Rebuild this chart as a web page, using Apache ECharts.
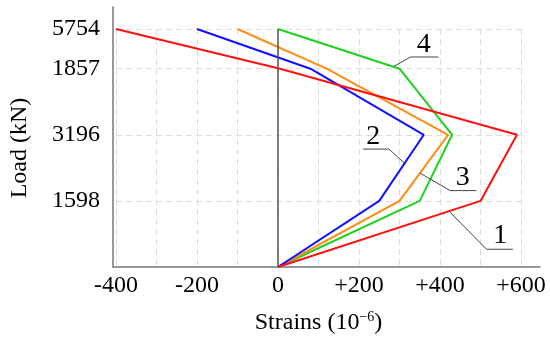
<!DOCTYPE html>
<html><head><meta charset="utf-8">
<script src="https://cdn.jsdelivr.net/npm/echarts@6/dist/echarts.min.js"></script>
<style>html,body{margin:0;padding:0;background:#fff}#c{width:550px;height:347px}</style>
</head><body><div id="c"></div>
<script>
const loadTicks = [1598, 3196, 4794, 5754];
const loadTickLabels = ['1598', '3196', '1857', '5754'];
const strainTicks = [-400, -200, 0, 200, 400, 600];
const curve1 = [[0,0],[500,1598],[590,3196],[5,4794],[-400,5754]];
const curve2 = [[0,0],[250,1598],[360,3196],[80,4794],[-200,5754]];
const curve3 = [[0,0],[300,1598],[420,3196],[120,4794],[-100,5754]];
const curve4 = [[0,0],[350,1598],[430,3196],[300,4794],[0,5754]];
const annotationNames = ['1','2','3','4'];
const annotationText = [[549,758],[235,3155],[456,2172],[360,5375]];
const annotationLeaders = [
  [[425,1324],[515,429],[580,429]],
  [[210,2850],[274,2850],[315,2487]],
  [[351,2269],[425,1847],[490,1847]],
  [[286,4850],[327,5077],[396,5077]]
];

const FONT = '"Liberation Serif", "Times New Roman", serif';
const leaderData = [];
annotationLeaders.forEach((seg, i) => { if (i) leaderData.push('-'); seg.forEach(p => leaderData.push(p)); });

const chart = echarts.init(document.getElementById('c'));
const lineSeries = (data, color) => ({
  type: 'line', xAxisIndex: 1, yAxisIndex: 1, data, symbol: 'none', silent: true,
  lineStyle: { color, width: 2 }, animation: false
});
chart.setOption({
  backgroundColor: '#fff',
  animation: false,
  grid: [
    { left: 113, top: 7, right: 10, bottom: 80 },
    { left: 113, top: 29, right: 29, bottom: 80 }
  ],
  xAxis: [
    { type: 'value', gridIndex: 0, min: -400, max: 650,
      axisLine: { show: true, onZero: false, lineStyle: { color: '#777', width: 1.5 } },
      axisTick: { show: false }, axisLabel: { show: false }, splitLine: { show: false } },
    { type: 'value', gridIndex: 1, min: -400, max: 600, interval: 100,
      axisLine: { show: false }, axisTick: { show: false },
      axisLabel: { customValues: strainTicks, fontFamily: FONT, fontSize: 24, color: '#000', margin: 7,
        formatter: v => (v > 0 ? '+' + v : String(v)) },
      splitLine: { show: true, lineStyle: { color: '#dcdcdc', type: [6, 4], width: 1 } },
      name: '{a|Strains (10}{s|−6}{a|)}', nameLocation: 'middle', nameGap: 43,
      nameTextStyle: { rich: {
        a: { fontFamily: FONT, fontSize: 24, color: '#000' },
        s: { fontFamily: FONT, fontSize: 14, color: '#000', padding: [0, 0, 12, 0] } } } }
  ],
  yAxis: [
    { type: 'value', gridIndex: 0, min: 0, max: 6300,
      axisLine: { show: true, onZero: false, lineStyle: { color: '#777', width: 1.5 } },
      axisTick: { show: false }, axisLabel: { show: false }, splitLine: { show: false } },
    { type: 'value', gridIndex: 1, min: 0, max: 5754,
      axisLine: { show: false },
      axisTick: { show: false, customValues: loadTicks },
      axisLabel: { show: false, customValues: loadTicks },
      splitLine: { show: true, lineStyle: { color: '#dcdcdc', type: [6, 4], width: 1 } },
      name: 'Load (kN)', nameLocation: 'middle', nameGap: 84, nameRotate: 90,
      nameTextStyle: { fontFamily: FONT, fontSize: 24, color: '#000' } }
  ],
  series: [
    { type: 'line', xAxisIndex: 1, yAxisIndex: 1, data: [], silent: true,
      markLine: { symbol: 'none', silent: true, label: { show: false },
        lineStyle: { color: '#555', type: 'solid', width: 1.5 }, data: [{ xAxis: 0 }] } },
    lineSeries(curve4, '#1fd11f'),
    lineSeries(curve3, '#ff8c14'),
    lineSeries(curve2, '#1010ff'),
    lineSeries(curve1, '#ff1010'),
    { type: 'line', xAxisIndex: 1, yAxisIndex: 1, data: leaderData, symbol: 'none', silent: true,
      connectNulls: false, lineStyle: { color: '#444', width: 1 } },
    { type: 'custom', xAxisIndex: 1, yAxisIndex: 1, data: annotationText, silent: true,
      renderItem: (params, api) => {
        const p = api.coord([api.value(0), api.value(1)]);
        return { type: 'text', x: p[0], y: p[1], style: {
          text: annotationNames[params.dataIndex], fontFamily: FONT, fontSize: 28,
          fill: '#000', align: 'center', verticalAlign: 'middle' } };
      } },
    { type: 'custom', xAxisIndex: 1, yAxisIndex: 1, data: loadTicks.map(v => [-400, v]), silent: true,
      clip: false,
      renderItem: (params, api) => {
        const p = api.coord([api.value(0), api.value(1)]);
        return { type: 'text', x: p[0] - 16, y: p[1], style: {
          text: loadTickLabels[params.dataIndex], fontFamily: FONT, fontSize: 24,
          fill: '#000', align: 'right', verticalAlign: 'middle' } };
      } }
  ]
});
</script></body></html>
